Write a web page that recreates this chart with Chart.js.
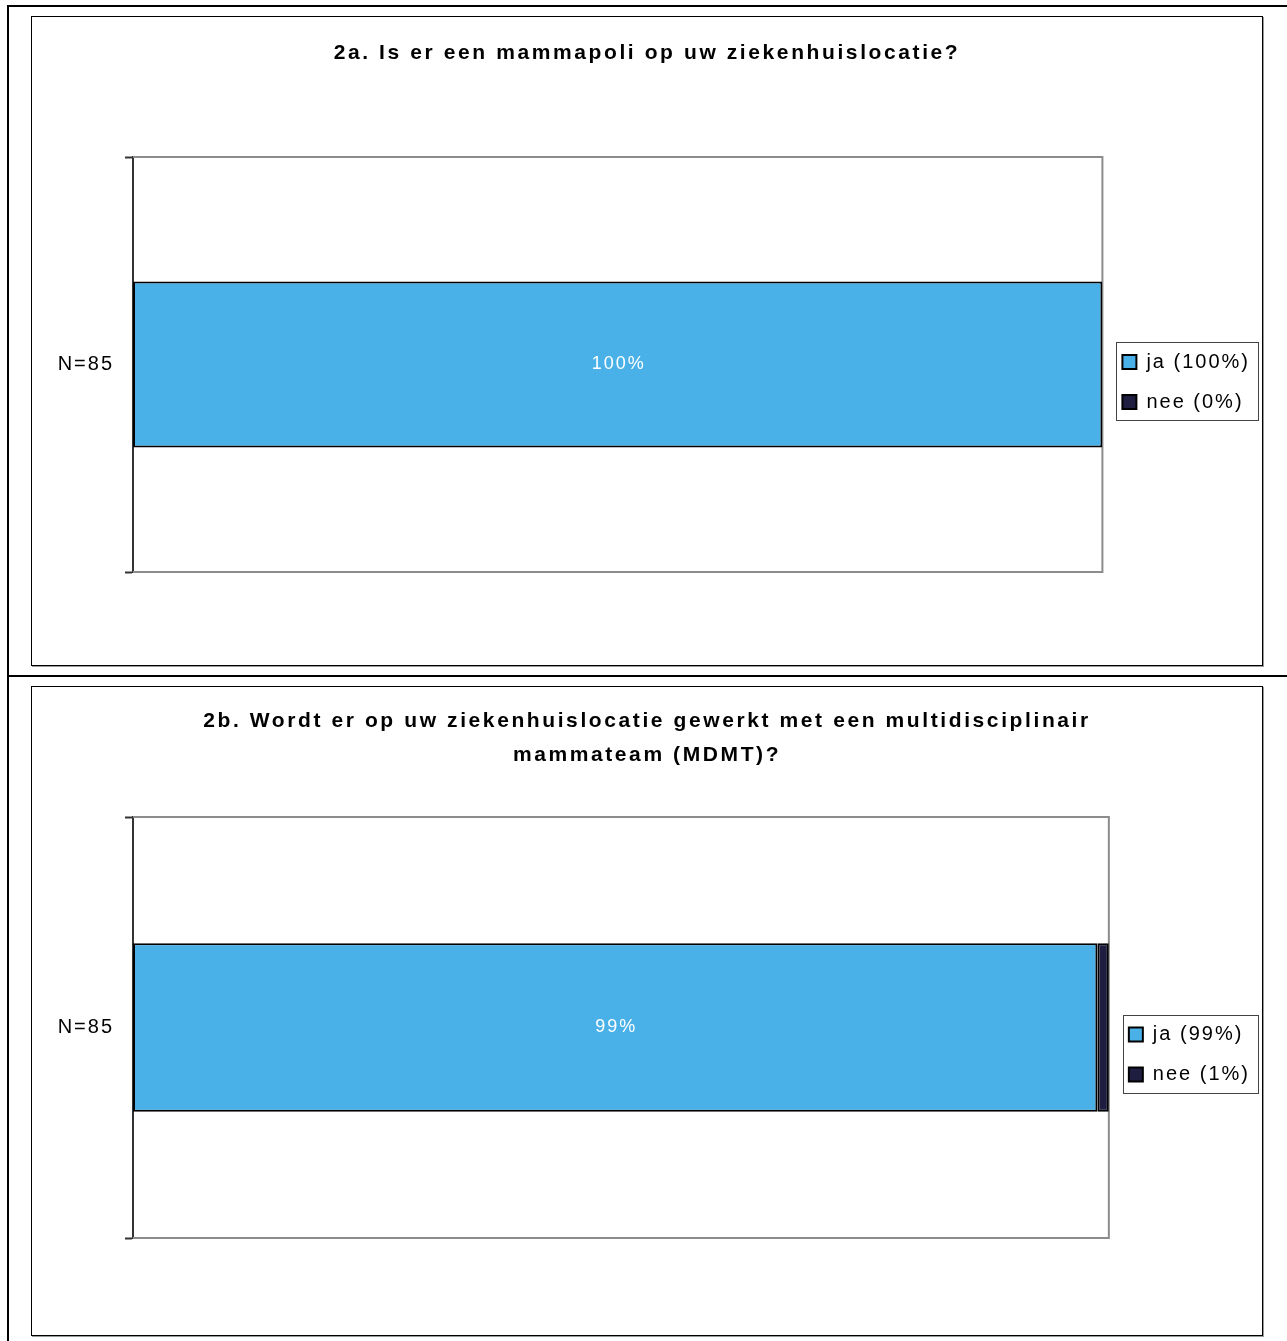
<!DOCTYPE html>
<html>
<head>
<meta charset="utf-8">
<script src="https://cdn.jsdelivr.net/npm/chart.js@4/dist/chart.umd.min.js"></script>
<style>
body { margin: 0; background: #fff; width: 1287px; height: 1341px; position: relative; overflow: hidden; font-family: "Liberation Sans", Arial, sans-serif; }
.line { position: absolute; background: #000; }
.box { position: absolute; border: 1px solid #000; box-shadow: 1px 1px 0 #999; background: #fff; }
.box canvas { display: block; position: absolute; left: 0; top: 0; }
.title { position: absolute; left: 0; width: 100%; text-align: center; font-weight: bold; font-size: 21px; letter-spacing: 2.6px; line-height: 34px; color: #000; z-index: 1; }
</style>
</head>
<body>
<div class="line" style="left:7px;top:5px;width:1280px;height:2px"></div>
<div class="line" style="left:7px;top:5px;width:2px;height:1336px"></div>
<div class="line" style="left:7px;top:675px;width:1280px;height:2px"></div>

<div class="box" style="left:31px;top:16px;width:1230px;height:648px">
  <canvas id="chart1" width="1230" height="648"></canvas>
  <div class="title" id="title1" style="top:18px"></div>
</div>
<div class="box" style="left:31px;top:686px;width:1230px;height:648px">
  <canvas id="chart2" width="1230" height="648"></canvas>
  <div class="title" id="title2" style="top:16px"></div>
</div>

<script>
// data
const categories = ['N=85']
const total = 85

const title1 = ['2a. Is er een mammapoli op uw ziekenhuislocatie?']
const ja1 = [85]
const nee1 = [0]
const legend1 = ['ja (100%)', 'nee (0%)']
const barText1 = ['100%']

const title2 = ['2b. Wordt er op uw ziekenhuislocatie gewerkt met een multidisciplinair', 'mammateam (MDMT)?']
const ja2 = [84]
const nee2 = [1]
const legend2 = ['ja (99%)', 'nee (1%)']
const barText2 = ['99%']

const blue = '#49b1e8'
const navy = '#1f1d40'
const font = '"Liberation Sans", Arial, sans-serif'

document.querySelector('#title1').innerHTML = title1.join('<br>')
document.querySelector('#title2').innerHTML = title2.join('<br>')

// letter spacing like the original export
const spacing = {
  id: 'spacing',
  beforeLayout(chart) { chart.ctx.letterSpacing = '2px' },
  beforeDraw(chart) { chart.ctx.letterSpacing = '2px' }
}

// grey frame of the plot (left side is the axis line)
const plotFrame = {
  id: 'plotFrame',
  beforeDatasetsDraw(chart) {
    const {ctx, chartArea: a} = chart
    ctx.save()
    ctx.strokeStyle = '#8c8c8c'
    ctx.lineWidth = 2
    ctx.beginPath()
    ctx.moveTo(a.left, a.top)
    ctx.lineTo(a.right, a.top)
    ctx.lineTo(a.right, a.bottom)
    ctx.lineTo(a.left, a.bottom)
    ctx.stroke()
    ctx.restore()
  }
}

// white percentage in the middle of the ja bar
const barLabels = {
  id: 'barLabels',
  afterDatasetsDraw(chart, args, opts) {
    const ctx = chart.ctx
    const meta = chart.getDatasetMeta(0)
    ctx.save()
    ctx.fillStyle = '#fff'
    ctx.font = '18px ' + font
    ctx.textAlign = 'center'
    ctx.textBaseline = 'middle'
    meta.data.forEach((bar, i) => {
      const txt = opts.texts[i]
      if (!txt) return
      ctx.fillText(txt, (bar.x + bar.base) / 2 + 1, bar.y)
    })
    ctx.restore()
  }
}

// border round the legend
const legendFrame = {
  id: 'legendFrame',
  afterDraw(chart) {
    const boxes = chart.legend.legendHitBoxes
    if (!boxes || !boxes.length) return
    let l = Infinity, t = Infinity, r = -Infinity, b = -Infinity
    boxes.forEach(h => {
      l = Math.min(l, h.left); t = Math.min(t, h.top)
      r = Math.max(r, h.left + h.width); b = Math.max(b, h.top + h.height)
    })
    const ctx = chart.ctx
    ctx.save()
    ctx.strokeStyle = '#444'
    ctx.lineWidth = 1
    ctx.strokeRect(Math.round(l - 6) + 0.5, Math.round(t - 10) + 0.5, Math.round(r - l + 14), Math.round(b - t + 18))
    ctx.restore()
  }
}

function makeChart(id, ja, nee, legendNames, texts, lay) {
  return new Chart(document.getElementById(id), {
    type: 'bar',
    data: {
      labels: categories,
      datasets: [
        { label: legendNames[0], data: ja, backgroundColor: blue, borderColor: '#000', borderWidth: 2, borderSkipped: false, categoryPercentage: 0.4, barPercentage: 1 },
        { label: legendNames[1], data: nee, backgroundColor: navy, borderColor: '#000', borderWidth: 2, borderSkipped: false, categoryPercentage: 0.4, barPercentage: 1 }
      ]
    },
    options: {
      indexAxis: 'y',
      responsive: false,
      animation: false,
      events: [],
      layout: { padding: { left: 0, right: lay.right, top: lay.top, bottom: lay.bottom } },
      scales: {
        x: { stacked: true, min: 0, max: total, display: false },
        y: {
          stacked: true,
          afterFit(scale) { scale.width = 101 },
          border: { display: true, color: '#333', width: 2 },
          grid: { drawOnChartArea: false, drawTicks: true, tickLength: 8, tickColor: '#333', tickWidth: 2, offset: true },
          ticks: { color: '#000', padding: 11, font: { family: font, size: 20 } }
        }
      },
      plugins: {
        title: { display: false },
        legend: {
          display: true,
          position: 'right',
          title: { display: true, text: ' ', font: { size: 1, lineHeight: 1 }, padding: { top: lay.legendShift, bottom: 0 } },
          labels: { color: '#000', boxWidth: 14, boxHeight: 14, padding: 20, font: { family: font, size: 20 } }
        },
        tooltip: { enabled: false },
        barLabels: { texts: texts }
      }
    },
    plugins: [spacing, plotFrame, barLabels, legendFrame]
  })
}

makeChart('chart1', ja1, nee1, legend1, barText1, { right: 2, top: 140, bottom: 93, legendShift: 34 })
makeChart('chart2', ja2, nee2, legend2, barText2, { right: 2, top: 130, bottom: 97, legendShift: 53 })
</script>
</body>
</html>
